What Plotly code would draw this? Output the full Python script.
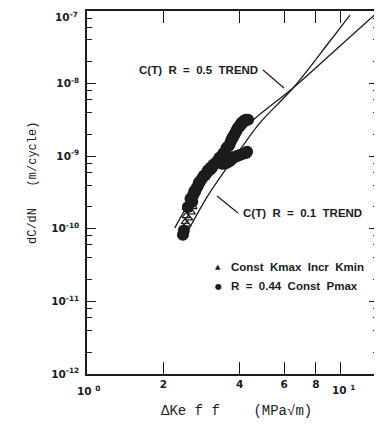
import plotly.graph_objects as go

# ---- data ----
# R = 0.44 Const Pmax (filled circles), upper branch
circ_x = [2.39, 2.41, 2.50, 2.60, 2.62, 2.67, 2.74, 2.79, 2.89, 2.97, 3.06, 3.11, 3.20, 3.29,
          3.41, 3.50, 3.60, 3.70, 3.77, 3.87, 3.94, 4.05, 4.12, 4.24, 4.32,
          2.56, 2.65, 2.70, 2.76, 2.84, 2.93, 3.00, 3.08, 3.15, 3.24, 3.34, 3.45, 3.55, 3.65,
          3.74, 3.82, 3.90, 4.00, 4.08, 4.18,
          # lower branch
          3.41, 3.49, 3.57, 3.66, 3.72, 3.77, 3.84, 3.91, 4.01, 4.12, 4.24, 4.28]
circ_y = [8.3e-11, 9.5e-11, 2.0e-10, 2.36e-10, 2.9e-10, 3.24e-10, 3.92e-10, 4.45e-10, 5.37e-10,
          5.91e-10, 6.5e-10, 6.92e-10, 7.86e-10, 8.9e-10, 1.01e-9, 1.11e-9, 1.35e-9, 1.63e-9,
          1.85e-9, 2.17e-9, 2.46e-9, 2.79e-9, 2.97e-9, 3.17e-9, 3.17e-9,
          2.6e-10, 3.3e-10, 3.6e-10, 4.3e-10, 4.9e-10, 5.5e-10, 6.4e-10, 7.0e-10, 7.6e-10,
          8.2e-10, 9.6e-10, 1.1e-9, 1.3e-9, 1.45e-9, 1.75e-9, 2.0e-9, 2.3e-9, 2.6e-9, 2.9e-9,
          3.1e-9,
          7.86e-10, 7.9e-10, 8.1e-10, 8.6e-10, 9.1e-10, 9.5e-10, 9.8e-10, 1.01e-9, 1.04e-9,
          1.08e-9, 1.11e-9, 1.15e-9]

# Const Kmax Incr Kmin (open triangles)
tri_x = [2.41, 2.44, 2.46, 2.50, 2.55, 2.46, 2.58, 2.52, 2.62, 2.48]
tri_y = [1.03e-10, 1.25e-10, 1.51e-10, 1.83e-10, 2.15e-10, 1.95e-10, 1.7e-10, 1.4e-10, 2.0e-10, 1.15e-10]

# C(T) trend curves
t05_x = [2.22, 2.62, 3.40, 4.40, 6.50, 9.09, 14.3]
t05_y = [1.03e-10, 2.77e-10, 1.0e-9, 2.88e-9, 8.7e-9, 2.48e-8, 1.03e-7]
t01_x = [2.48, 3.05, 4.01, 4.81, 6.50, 9.09, 10.9]
t01_y = [8.8e-11, 3.14e-10, 1.22e-9, 2.88e-9, 8.7e-9, 3.86e-8, 8.8e-8]

x_major = [1, 10]
x_minor = [2, 4, 6, 8]
x_tick_labels = ["2", "4", "6", "8"]
y_major = [1e-12, 1e-11, 1e-10, 1e-9, 1e-8, 1e-7]
y_tick_labels = ["10<sup>-12</sup>", "10<sup>-11</sup>", "10<sup>-10</sup>",
                 "10<sup>-9</sup>", "10<sup>-8</sup>", ""]
y_top_label = "10<sup>-7</sup>"
y_minor = [m * 10.0 ** e for e in range(-12, -7) for m in (2, 4, 6, 8)]

INK = "#1c1c1c"
OFF = 8  # default page body margin
W, H = 382 - OFF, 425 - OFF
L, R, T, B = 87 - OFF, 4, 11 - OFF, 51
PW, PH = W - L - R, H - T - B


def px(x):
    return (x - OFF - L) / PW


def py(y):
    return 1 - (y - OFF - T) / PH


fig = go.Figure()
fig.add_trace(go.Scatter(x=t05_x, y=t05_y, mode="lines", line=dict(color=INK, width=1.3, shape="spline"),
                         name="C(T) R = 0.5 TREND", showlegend=False))
fig.add_trace(go.Scatter(x=t01_x, y=t01_y, mode="lines", line=dict(color=INK, width=1.3, shape="spline"),
                         name="C(T) R = 0.1 TREND", showlegend=False))
fig.add_trace(go.Scatter(x=circ_x, y=circ_y, mode="markers",
                         marker=dict(symbol="circle", size=12, color=INK, line=dict(width=0)),
                         name="R = 0.44 Const Pmax", showlegend=False))
fig.add_trace(go.Scatter(x=tri_x, y=tri_y, mode="markers",
                         marker=dict(symbol="triangle-up-open", size=7, color=INK, line=dict(width=1.2)),
                         name="Const Kmax Incr Kmin", showlegend=False))

tickfont = dict(family="DejaVu Sans", size=10.5, color=INK, weight="bold")
ann_font = dict(family="Liberation Sans", size=11.5, color=INK, weight="bold")

fig.update_xaxes(type="log", range=[0, 1.148], showgrid=False, zeroline=False, automargin=False,
                 showline=True, linecolor=INK, linewidth=1.5, mirror="allticks",
                 ticks="inside", ticklen=12, tickwidth=1.2, tickcolor=INK,
                 tickvals=x_minor + x_major, ticktext=x_tick_labels + ["", ""],
                 tickfont=tickfont, ticklabeloverflow="allow",
                 minor=dict(tickvals=x_minor, ticks="inside", ticklen=6, tickwidth=1.2, tickcolor=INK))
fig.update_yaxes(type="log", range=[-12, -7], showgrid=False, zeroline=False, automargin=False,
                 showline=True, linecolor=INK, linewidth=1.5, mirror="allticks",
                 ticks="inside", ticklen=9, tickwidth=1.2, tickcolor=INK,
                 tickvals=y_major, ticktext=y_tick_labels, tickfont=tickfont,
                 ticklabelstandoff=4, ticklabeloverflow="allow",
                 minor=dict(tickvals=y_minor, ticks="inside", ticklen=5, tickwidth=1.2, tickcolor=INK))

annotations = [
    dict(text=y_top_label, x=px(80), y=py(17), xanchor="right", font=tickfont),
    dict(text="C(T)  R  =  0.5  TREND", x=px(198), y=py(70), font=ann_font),
    dict(text="C(T)  R  =  0.1  TREND", x=px(302), y=py(213), font=ann_font),
    dict(text="▲", x=px(218), y=py(267), font=dict(family="DejaVu Sans", size=7, color=INK)),
    dict(text="Const  Kmax  Incr  Kmin", x=px(229), y=py(267), xanchor="left", font=ann_font),
    dict(text="●", x=px(218), y=py(286), font=dict(family="DejaVu Sans", size=8, color=INK)),
    dict(text="R  =  0.44  Const  Pmax", x=px(229), y=py(286), xanchor="left", font=ann_font),
    dict(text="10 <sup>0</sup>", x=px(88), y=py(391), font=tickfont),
    dict(text="10 <sup>1</sup>", x=px(343), y=py(389), font=tickfont),
    dict(text="ΔKe f f    (MPa√m)", x=px(236), y=py(411),
         font=dict(family="Liberation Mono", size=14, color=INK)),
    dict(text="dC/dN   (m/cycle)", x=px(33), y=py(183), textangle=-90,
         font=dict(family="Liberation Mono", size=12, color=INK)),
]
for a in annotations:
    a.setdefault("xanchor", "center")
    a.update(xref="paper", yref="paper", showarrow=False, yanchor="middle")
fig.update_layout(annotations=annotations)

shapes = [
    dict(type="line", x0=px(263), y0=py(70), x1=px(284), y1=py(88)),
    dict(type="line", x0=px(238), y0=py(213), x1=px(217), y1=py(196)),
]
for s in shapes:
    s.update(xref="paper", yref="paper", line=dict(color=INK, width=1.2))
fig.update_layout(shapes=shapes)

fig.update_layout(width=W, height=H, margin=dict(l=L, r=R, t=T, b=B, autoexpand=False),
                  paper_bgcolor="white", plot_bgcolor="white", showlegend=False)

fig.write_html("out.html")
